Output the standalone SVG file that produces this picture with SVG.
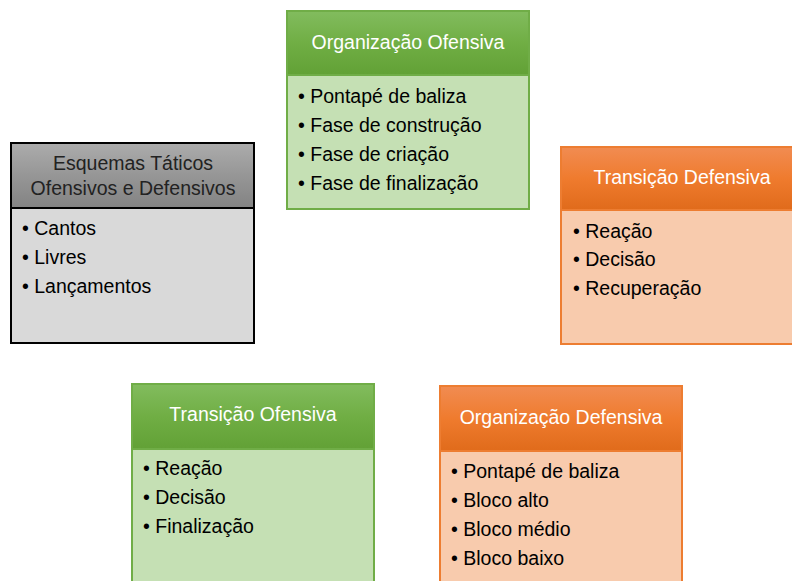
<svg xmlns="http://www.w3.org/2000/svg" width="792" height="581" viewBox="0 0 792 581">
<defs>
<linearGradient id="gG" x1="0" y1="0" x2="0" y2="1"><stop offset="0" stop-color="#82bc5e"/><stop offset="0.5" stop-color="#70ae44"/><stop offset="1" stop-color="#62a136"/></linearGradient>
<linearGradient id="gO" x1="0" y1="0" x2="0" y2="1"><stop offset="0" stop-color="#f18c52"/><stop offset="0.5" stop-color="#ef7b2e"/><stop offset="1" stop-color="#e06b1b"/></linearGradient>
<linearGradient id="gK" x1="0" y1="0" x2="0" y2="1"><stop offset="0" stop-color="#acacac"/><stop offset="0.5" stop-color="#969696"/><stop offset="1" stop-color="#838383"/></linearGradient>
</defs>
<style>
text{font-family:"Liberation Sans",Arial,sans-serif;font-size:19.5px}
.h{fill:#ffffff;text-anchor:middle}
.hk{fill:#222222;text-anchor:middle}
.b{fill:#000000}
.gb{fill:#c5e0b4;stroke:#70ad47;stroke-width:2}
.gh{fill:url(#gG);stroke:#70ad47;stroke-width:2}
.ob{fill:#f8cbad;stroke:#ed7d31;stroke-width:2}
.oh{fill:url(#gO);stroke:#ed7d31;stroke-width:2}
.kb{fill:#d9d9d9;stroke:#000000;stroke-width:2}
.kh{fill:url(#gK);stroke:#000000;stroke-width:2}
</style>
<rect width="792" height="581" fill="#ffffff"/>
<g id="connectors"></g>
<g id="organizacao-ofensiva">
<rect class="gb" x="287" y="11" width="242" height="198"/>
<rect class="gh" x="287" y="11" width="242" height="64"/>
<text class="h" x="408" y="49">Organização Ofensiva</text>
<text class="b" x="298" y="103">• Pontapé de baliza</text>
<text class="b" x="298" y="132">• Fase de construção</text>
<text class="b" x="298" y="161">• Fase de criação</text>
<text class="b" x="298" y="190">• Fase de finalização</text>
</g>
<g id="esquemas-taticos">
<rect class="kb" x="11" y="143" width="243" height="200"/>
<rect class="kh" x="11" y="143" width="243" height="65"/>
<text class="hk" x="133" y="170">Esquemas Táticos</text>
<text class="hk" x="133" y="195">Ofensivos e Defensivos</text>
<text class="b" x="22" y="235">• Cantos</text>
<text class="b" x="22" y="264">• Livres</text>
<text class="b" x="22" y="293">• Lançamentos</text>
</g>
<g id="transicao-defensiva">
<rect class="ob" x="561" y="147" width="240" height="197"/>
<rect class="oh" x="561" y="147" width="240" height="63"/>
<text class="h" x="682" y="184">Transição Defensiva</text>
<text class="b" x="573" y="238">• Reação</text>
<text class="b" x="573" y="266">• Decisão</text>
<text class="b" x="573" y="295">• Recuperação</text>
</g>
<g id="transicao-ofensiva">
<rect class="gb" x="132" y="384" width="242" height="210"/>
<rect class="gh" x="132" y="384" width="242" height="65"/>
<text class="h" x="253" y="421">Transição Ofensiva</text>
<text class="b" x="143" y="475">• Reação</text>
<text class="b" x="143" y="504">• Decisão</text>
<text class="b" x="143" y="533">• Finalização</text>
</g>
<g id="organizacao-defensiva">
<rect class="ob" x="440" y="386" width="242" height="210"/>
<rect class="oh" x="440" y="386" width="242" height="65"/>
<text class="h" x="561" y="424">Organização Defensiva</text>
<text class="b" x="451" y="478">• Pontapé de baliza</text>
<text class="b" x="451" y="507">• Bloco alto</text>
<text class="b" x="451" y="536">• Bloco médio</text>
<text class="b" x="451" y="565">• Bloco baixo</text>
</g>
</svg>
